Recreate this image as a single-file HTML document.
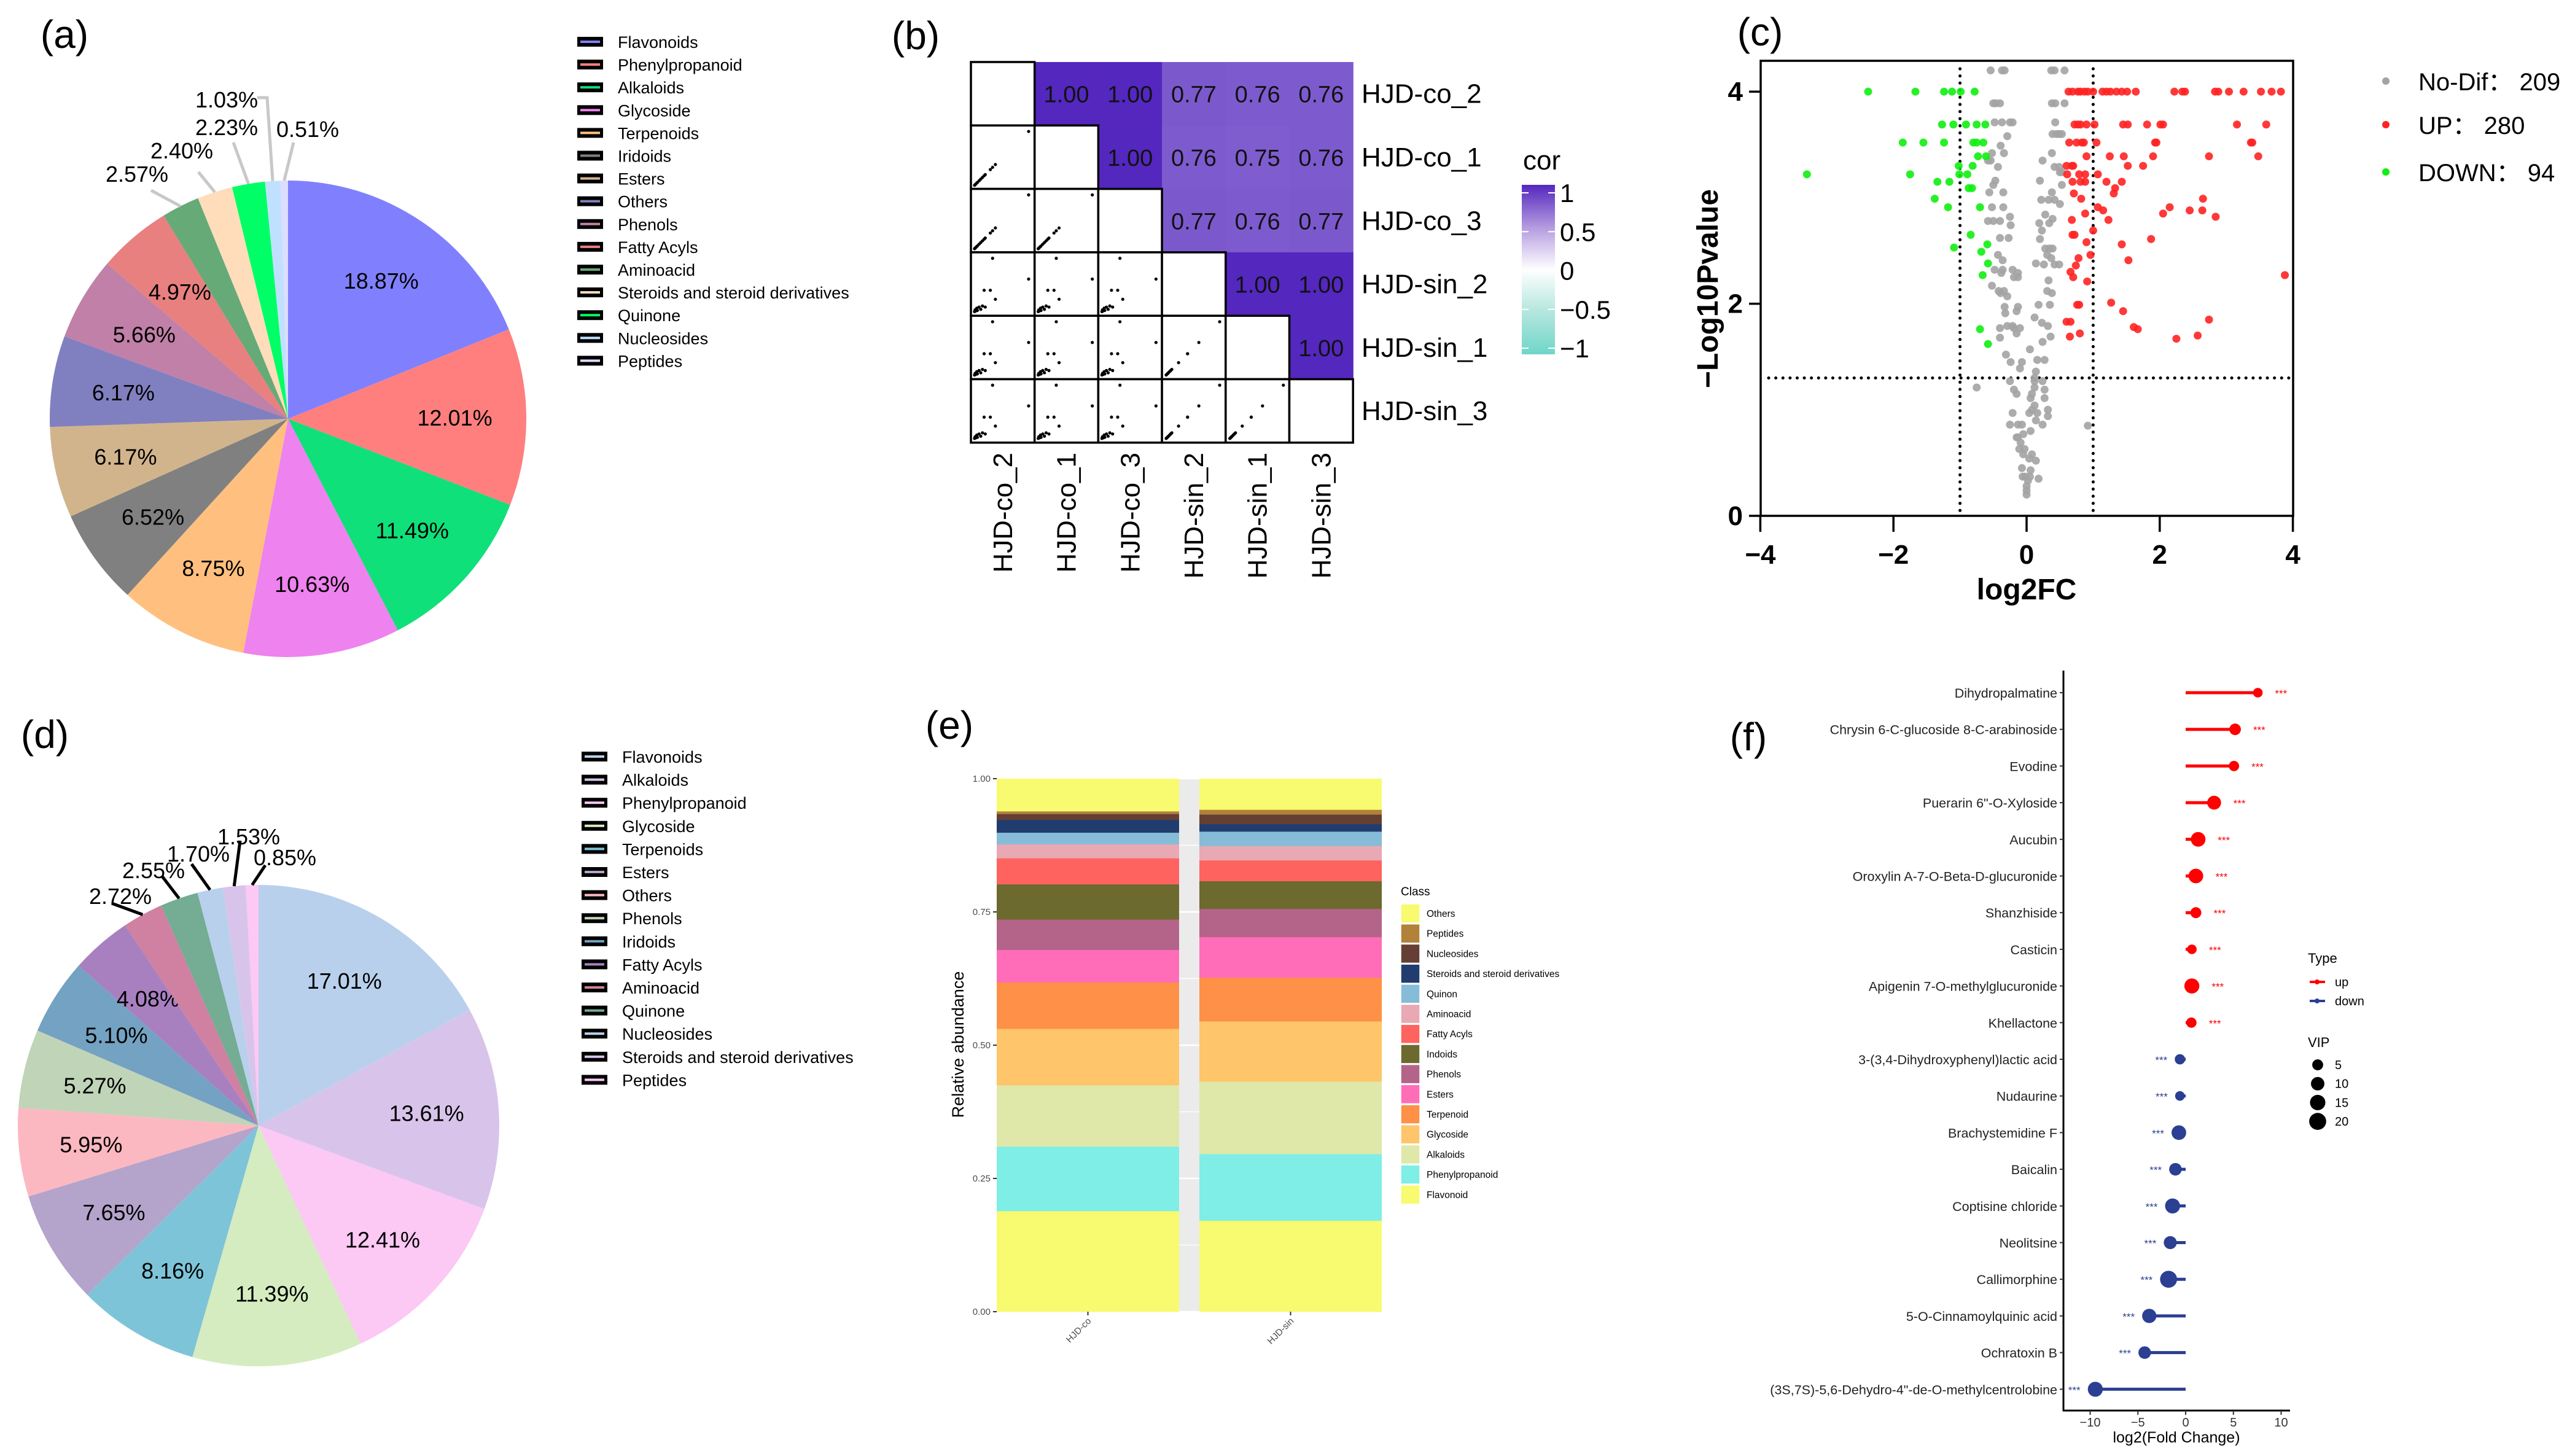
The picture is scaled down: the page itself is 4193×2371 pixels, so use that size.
<!DOCTYPE html>
<html><head><meta charset="utf-8"><style>
html,body{margin:0;padding:0;background:#fff;}
svg{display:block;}
</style></head><body>
<svg id="fig" xmlns="http://www.w3.org/2000/svg" width="4193" height="2371" viewBox="0 0 4193 2371"></svg>
<script>
// ---------- DATA ----------
const pieACats = ["Flavonoids","Phenylpropanoid","Alkaloids","Glycoside","Terpenoids","Iridoids","Esters","Others","Phenols","Fatty Acyls","Aminoacid","Steroids and steroid derivatives","Quinone","Nucleosides","Peptides"];
const pieAVals = [18.87,12.01,11.49,10.63,8.75,6.52,6.17,6.17,5.66,4.97,2.57,2.40,2.23,1.03,0.51];
const pieAColors = ["#8080FF","#FF7F7F","#10E07A","#EE82EE","#FFC07F","#808080","#D2B48C","#8080C0","#C080A8","#E88080","#66AA77","#FFDDBB","#00FF66","#C0E0FF","#DDDDFF"];

const pieDCats = ["Flavonoids","Alkaloids","Phenylpropanoid","Glycoside","Terpenoids","Esters","Others","Phenols","Iridoids","Fatty Acyls","Aminoacid","Quinone","Nucleosides","Steroids and steroid derivatives","Peptides"];
const pieDVals = [17.01,13.61,12.41,11.39,8.16,7.65,5.95,5.27,5.10,4.08,2.72,2.55,1.70,1.53,0.85];
const pieDColors = ["#B8D0EC","#D8C4EA","#FCC8F4","#D5ECC0","#7EC4D8","#B4A4CC","#FCB8C0","#C0D4B8","#74A2C2","#A880C0","#D080A0","#74AC94","#B8D0EC","#D8C4EA","#FCC8F4"];

const corrSamples = ["HJD-co_2","HJD-co_1","HJD-co_3","HJD-sin_2","HJD-sin_1","HJD-sin_3"];
const corrRows = [
 [1,1.00,1.00,0.77,0.76,0.76],
 [1.00,1,1.00,0.76,0.75,0.76],
 [1.00,1.00,1,0.77,0.76,0.77],
 [0.77,0.76,0.77,1,1.00,1.00],
 [0.76,0.75,0.76,1.00,1,1.00],
 [0.76,0.76,0.77,1.00,1.00,1]];
const profileCo = [0.01,0.02,0.03,0.05,0.06,0.09,0.12,0.15,0.18,0.20,0.29,0.33,0.38,0.97];
const profileSin = [0.02,0.05,0.03,0.08,0.04,0.10,0.06,0.12,0.40,0.10,0.40,0.97,0.24,0.60];
const corrTicks = [1,0.5,0,-0.5,-1];

const volXTicks = [-4,-2,0,2,4];
const volYTicks = [0,2,4];
const upGroups = [
 [4.0,[0.63,0.69,0.77,0.81,0.87,0.92,1.00,1.14,1.20,1.26,1.35,1.43,1.51,1.64,2.22,2.34,2.38,2.83,2.88,3.04,3.26,3.52,3.68,3.82]],
 [3.69,[0.72,0.77,0.81,0.90,1.02,1.45,1.52,1.81,2.01,2.05,3.16,3.60]],
 [3.52,[0.64,0.75,0.83,0.86,1.05,1.93,1.95,3.37,3.39]],
 [3.39,[0.90,1.25,1.46,1.90,2.74,3.48]],
 [3.30,[0.60,0.68,0.70,1.52,1.75]],
 [3.22,[0.61,0.79,0.88,1.07]],
 [3.15,[0.69,0.81,0.88,1.20,1.43]],
 [3.09,[1.33]],[3.04,[0.71,1.31]],[2.99,[0.82,2.65]],[2.91,[1.07,2.15]],
 [2.88,[1.15,2.45,2.64]],[2.85,[0.88,2.05]],[2.82,[2.84]],[2.79,[0.68,1.23]],
 [2.69,[1.00]],[2.65,[0.69,0.72]],[2.61,[1.87]],[2.58,[0.90]],[2.56,[1.43]],
 [2.46,[0.96]],[2.43,[0.78]],[2.41,[1.53]],[2.36,[0.74]],[2.30,[0.66]],[2.25,[0.70]],
 [2.27,[3.88]],[2.21,[0.91]],[2.01,[1.27]],[1.93,[1.45]],[1.99,[0.79,0.76]],
 [1.85,[2.74]],[1.83,[0.60,0.66]],[1.78,[1.61]],[1.76,[1.67]],[1.72,[0.80]],
 [1.69,[0.65]],[1.70,[2.57]],[1.67,[2.25]]];
const downGroups = [
 [4.0,[-2.38,-1.67,-1.24,-1.12,-0.99,-0.78]],
 [3.69,[-1.27,-1.10,-0.91,-0.75,-0.62]],
 [3.52,[-1.86,-1.55,-1.24,-0.80,-0.75,-0.65]],
 [3.39,[-0.73,-0.61]],
 [3.30,[-1.02,-0.81]],
 [3.22,[-3.30,-1.75,-1.01,-0.89]],
 [3.15,[-1.34,-1.16]],[3.09,[-0.87,-0.82]],[2.99,[-1.38]],[2.91,[-1.18,-0.70]],
 [2.65,[-0.84]],[2.53,[-1.09]],[2.56,[-0.59]],[2.49,[-0.68]],[2.38,[-0.58]],
 [2.27,[-0.66]],[1.76,[-0.70]],[1.62,[-0.58]]];
const noDifGroups = [
 [4.20,[-0.54,-0.37,-0.33,0.37,0.42,0.57]],[3.89,[-0.50,-0.46,-0.40,0.38,0.43,0.57]],
 [3.71,[-0.48,-0.37,-0.25,-0.21,0.43]],[3.60,[0.39,0.45,0.49,0.53]],[3.58,[-0.29]],
 [3.49,[-0.39]],[3.42,[-0.52,-0.34,0.38]],[3.35,[-0.58,-0.54,0.24]],[3.29,[-0.43,0.42,0.49]],
 [3.24,[0.50,0.53]],[3.16,[0.20,-0.47]],[3.12,[-0.50,0.53]],[3.05,[-0.56,-0.35,0.38]],
 [2.98,[0.22,0.33,0.42]],[2.94,[0.50]],[2.91,[-0.52,-0.35]],[2.84,[0.28]],[2.82,[-0.25]],
 [2.80,[0.39]],[2.78,[-0.58,-0.50,-0.40]],[2.76,[0.19,0.34]],[2.74,[-0.24]],[2.69,[0.23]],
 [2.62,[-0.40,-0.27]],[2.61,[0.20]],[2.52,[0.28,0.34,0.39]],[2.46,[-0.43,0.31]],[2.43,[0.37]],
 [2.41,[-0.36]],[2.38,[0.14]],[2.37,[0.26,0.42,0.49]],[2.32,[-0.48,-0.36,-0.21]],
 [2.29,[-0.38,-0.13]],[2.25,[-0.19,-0.13]],[2.22,[0.33]],[2.17,[-0.52]],[2.12,[-0.42,-0.34,0.31]],
 [2.10,[-0.39,0.38]],[2.07,[-0.29]],[1.99,[0.18,0.35]],[1.97,[-0.33,-0.13]],[1.93,[-0.15]],
 [1.91,[-0.32]],[1.87,[0.12]],[1.82,[0.23]],[1.79,[-0.29,-0.21,0.32]],[1.77,[-0.40,-0.19,-0.10]],
 [1.72,[-0.15]],[1.69,[0.36]],[1.68,[-0.40]],[1.64,[0.24]],[1.57,[0.05]],[1.52,[-0.31]],
 [1.47,[0.16,0.27]],[1.45,[-0.24,-0.07]],[1.39,[-0.10]],[1.36,[0.14]],[1.30,[0.12]],
 [1.27,[-0.25,0.12,0.24]],[1.21,[-0.75,0.12]],[1.19,[-0.19,0.27]],[1.15,[-0.15,0.08]],
 [1.11,[0.06,0.27]],[1.04,[0.12]],[1.00,[0.08,0.32]],[0.97,[-0.21,0.04,0.16]],[0.94,[0.32]],
 [0.90,[0.14]],[0.86,[-0.25,-0.13,-0.07,0.24]],[0.85,[0.92]],[0.80,[0.06]],[0.77,[-0.05]],
 [0.74,[-0.15,-0.13]],[0.69,[-0.09]],[0.63,[-0.11,-0.03]],[0.58,[-0.05,0.08]],[0.54,[0.04]],
 [0.52,[0.14]],[0.45,[-0.07]],[0.43,[0.06]],[0.37,[-0.06,-0.02,0.05]],[0.35,[0.18]],
 [0.33,[0.02]],[0.28,[0.00]],[0.24,[0.00]],[0.20,[0.00]]];

const stackClasses = ["Flavonoid","Phenylpropanoid","Alkaloids","Glycoside","Terpenoid","Esters","Phenols","Indoids","Fatty Acyls","Aminoacid","Quinon","Steroids and steroid derivatives","Nucleosides","Peptides","Others"];
const stackColors = ["#F8FA70","#7FEEE6","#DFE8A8","#FEC56A","#FE9047","#FF6DB9","#B56489","#6C6A2E","#FE635F","#E8A9B4","#87BCD8","#213D6F","#653F34","#B2813A","#F8FA70"];
const stackGroups = ["HJD-co","HJD-sin"];
const stackCo = [0.189,0.121,0.115,0.106,0.087,0.061,0.057,0.066,0.049,0.026,0.022,0.024,0.011,0.005,0.061];
const stackSin = [0.171,0.125,0.136,0.113,0.082,0.076,0.053,0.052,0.039,0.027,0.027,0.014,0.018,0.009,0.058];
const stackTicks = [0,0.25,0.5,0.75,1];

const lolliNames = ["Dihydropalmatine","Chrysin 6-C-glucoside 8-C-arabinoside","Evodine","Puerarin 6\"-O-Xyloside","Aucubin","Oroxylin A-7-O-Beta-D-glucuronide","Shanzhiside","Casticin","Apigenin 7-O-methylglucuronide","Khellactone","3-(3,4-Dihydroxyphenyl)lactic acid","Nudaurine","Brachystemidine F","Baicalin","Coptisine chloride","Neolitsine","Callimorphine","5-O-Cinnamoylquinic acid","Ochratoxin B","(3S,7S)-5,6-Dehydro-4\"-de-O-methylcentrolobine"];
const lolliFC = [7.56,5.18,5.06,2.98,1.31,1.07,1.07,0.65,0.65,0.60,-0.60,-0.60,-0.71,-1.07,-1.37,-1.61,-1.79,-3.81,-4.29,-9.46];
const lolliVIP = [3,6,4,11,13,13,5,3,14,4,4,3,13,8,14,9,20,12,8,14];
const lolliTicks = [-10,-5,0,5,10];
const vipLegend = [5,10,15,20];

// ---------- HELPERS ----------
const svg = document.getElementById('fig');
const NS = 'http://www.w3.org/2000/svg';
const SANS = '"Liberation Sans", sans-serif';
const NARROW = '"Liberation Sans Narrow", "Liberation Sans", sans-serif';
function mk(tag, attrs, parent, text){
  const e = document.createElementNS(NS, tag);
  for (const k in attrs) e.setAttribute(k, attrs[k]);
  if (text !== undefined) e.textContent = text;
  (parent || svg).appendChild(e);
  return e;
}
function grp(parent){ return mk('g', {}, parent); }
function polar(cx, cy, r, deg){ const a = (deg - 90) * Math.PI / 180; return [cx + r * Math.cos(a), cy + r * Math.sin(a)]; }

const letters = [["(a)",105,78],["(b)",1491,80],["(c)",2866,74],["(d)",73,1218],["(e)",1546,1203],["(f)",2847,1222]];
letters.forEach(L => {
  const t = mk('text', {x:L[1], y:L[2], 'text-anchor':'middle', 'font-family':SANS, 'font-size':64}, svg, L[0]);
  
  
});

// ---------- PIE ----------
function drawPie(g, cx, cy, r, vals, colors, outside, labelColor){
  const total = vals.reduce((a,b)=>a+b,0);
  let acc = 0;
  vals.forEach((v, i) => {
    const a0 = acc / total * 360, a1 = (acc + v) / total * 360; acc += v;
    const p0 = polar(cx, cy, r, a0), p1 = polar(cx, cy, r, a1);
    const large = (a1 - a0) > 180 ? 1 : 0;
    const s = mk('path', {d:`M${cx},${cy} L${p0[0]},${p0[1]} A${r},${r} 0 ${large} 1 ${p1[0]},${p1[1]} Z`, fill:colors[i]}, g);
    
    
    const mid = (a0 + a1) / 2;
    const lab = v.toFixed(2) + '%';
    const o = outside[i];
    if (o){
      const ps = polar(cx, cy, r, mid);
      const ln = mk('polyline', {points:`${ps[0]},${ps[1]} ${o[2]},${o[3]}` + (o[4]!==undefined?` ${o[4]},${o[5]}`:''), fill:'none', stroke:labelColor, 'stroke-width':5}, g);
      
      
      const t = mk('text', {x:o[0], y:o[1], 'text-anchor':'middle', 'font-family':NARROW, 'font-size':36}, g, lab);
      
      
    } else {
      const pt = polar(cx, cy, r * 0.7, mid);
      const t = mk('text', {x:pt[0], y:pt[1] + 13, 'text-anchor':'middle', 'font-family':NARROW, 'font-size':36}, g, lab);
      
      
    }
  });
}
function drawPieLegend(g, x, y0, step, cats, colors){
  cats.forEach((c, i) => {
    const y = y0 + i * step;
    const item = grp(g);
    
    
    mk('rect', {x:x, y:y-8, width:42, height:16, fill:'#000'}, item);
    mk('rect', {x:x+5, y:y-2, width:32, height:4, fill:colors[i]}, item);
    mk('text', {x:x+66, y:y+10, 'font-family':NARROW, 'font-size':27}, item, c);
  });
}
const outsideA = {10:[223,296,246,310],11:[296,258,323,280],12:[369,220,380,232],13:[369,175,435,159,419,159],14:[501,223,478,232]};
const gA = grp(svg);


drawPie(gA, 469, 682, 388, pieAVals, pieAColors, outsideA, '#C8C8C8');
const legA = grp(svg);


drawPieLegend(legA, 940, 68, 37.1, pieACats, pieAColors);

const outsideD = {10:[196,1472,182,1471],11:[250,1430,264,1427],12:[323,1403,312,1407],13:[405,1375,391,1369],14:[464,1409,432,1409]};
const gD = grp(svg);


drawPie(gD, 421, 1833, 392, pieDVals, pieDColors, outsideD, '#000');
const legD = grp(svg);


drawPieLegend(legD, 947, 1232, 37.6, pieDCats, pieDColors);

// ---------- CORRELATION (b) ----------
const gB = grp(svg);


const bx0 = 1581, by0 = 101, cw = 103.7, ch = 103.3;
function corrColor(v){
  const t = Math.max(0, Math.min(1, Math.abs(v)));
  const c1 = v >= 0 ? [84,39,190] : [111,214,200];
  return `rgb(${Math.round(255-(255-c1[0])*t)},${Math.round(255-(255-c1[1])*t)},${Math.round(255-(255-c1[2])*t)})`;
}
function profileOf(i){ return i < 3 ? profileCo : profileSin; }
corrSamples.forEach((rowName, i) => {
  corrSamples.forEach((colName, j) => {
    const x = bx0 + j * cw, y = by0 + i * ch;
    if (j > i){
      const v = corrRows[i][j];
      const c = mk('rect', {x:x, y:y, width:cw+0.6, height:ch+0.6, fill:corrColor(v)}, gB);
      
      
      const t = mk('text', {x:x+cw/2, y:y+ch/2+14, 'text-anchor':'middle', 'font-family':SANS, 'font-size':38, fill:'#111'}, gB, v.toFixed(2));
      
      
    }
  });
});
corrSamples.forEach((rowName, i) => {
  corrSamples.forEach((colName, j) => {
    if (j > i) return;
    const x = bx0 + j * cw, y = by0 + i * ch;
    const c = mk('rect', {x:x, y:y, width:cw, height:ch, fill:'#fff', stroke:'#000', 'stroke-width':3.5}, gB);
    
    
    if (j < i){
      const px = profileOf(j), py = profileOf(i);
      px.forEach((vx, k) => {
        const d = mk('circle', {cx:x+5+vx*(cw-12), cy:y+ch-5-py[k]*(ch-12), r:2.6, fill:'#000'}, gB);
        
        
      });
    }
  });
  const rl = mk('text', {x:2217, y:by0+i*ch+ch/2+15, 'font-family':SANS, 'font-size':44}, gB, rowName);
  
  
  const cx = bx0 + i*cw + cw/2 + 15;
  const cl = mk('text', {x:0, y:0, transform:`translate(${cx},737) rotate(-90)`, 'text-anchor':'end', 'font-family':SANS, 'font-size':44}, gB, rowName);
  
  
});
const defs = mk('defs', {});
const lg = mk('linearGradient', {id:'corrGrad', x1:0, y1:0, x2:0, y2:1}, defs);
[[0,'#5427BE'],[0.25,'#B49AE0'],[0.5,'#FFFFFF'],[0.75,'#B3E6DE'],[1,'#6FD6C8']].forEach(s => mk('stop', {offset:s[0], 'stop-color':s[1]}, lg));
const cb = grp(svg);


mk('rect', {x:2478, y:301, width:54, height:276, fill:'url(#corrGrad)'}, cb);
const cbT = mk('text', {x:2480, y:276, 'font-family':SANS, 'font-size':44}, cb, 'cor');


corrTicks.forEach(v => {
  const y = 314 + (1 - v) / 2 * 253;
  mk('line', {x1:2478, x2:2489, y1:y, y2:y, stroke:'#fff', 'stroke-width':2}, cb);
  mk('line', {x1:2521, x2:2532, y1:y, y2:y, stroke:'#fff', 'stroke-width':2}, cb);
  const t = mk('text', {x:2540, y:y+15, 'font-family':SANS, 'font-size':42}, cb, v === -1 ? '\u22121' : v === -0.5 ? '\u22120.5' : String(v));
  
  
});

// ---------- VOLCANO (c) ----------
const gC = grp(svg);


const vx = v => 3300 + v * 108.4;
const vy = v => 840 - v * 172.7;
mk('rect', {x:2867, y:99, width:867, height:741, fill:'none', stroke:'#000', 'stroke-width':3.5}, gC);
[-1, 1].forEach(v => {
  const l = mk('line', {x1:vx(v), x2:vx(v), y1:112, y2:836, stroke:'#000', 'stroke-width':5, 'stroke-dasharray':'0.1 11.5', 'stroke-linecap':'round'}, gC);
  
  
});
const hl = mk('line', {x1:2880, x2:3734, y1:vy(1.3), y2:vy(1.3), stroke:'#000', 'stroke-width':5, 'stroke-dasharray':'0.1 11.5', 'stroke-linecap':'round'}, gC);


function drawGroups(groups, color, name){
  groups.forEach(gr => gr[1].forEach(x => {
    const c = mk('circle', {cx:vx(x), cy:vy(gr[0]), r:6.5, fill:color, 'fill-opacity':0.9}, gC);
    
    
  }));
}
drawGroups(noDifGroups, '#A3A3A3', 'nodif-point');
drawGroups(upGroups, '#FF2222', 'up-point');
drawGroups(downGroups, '#11EE11', 'down-point');
volXTicks.forEach(v => {
  mk('line', {x1:vx(v), x2:vx(v), y1:840, y2:866, stroke:'#000', 'stroke-width':3.5}, gC);
  const t = mk('text', {x:vx(v), y:918, 'text-anchor':'middle', 'font-family':NARROW, 'font-weight':'bold', 'font-size':44}, gC, v < 0 ? '\u2212' + Math.abs(v) : String(v));
  
  
});
volYTicks.forEach(v => {
  mk('line', {x1:2848, x2:2867, y1:vy(v), y2:vy(v), stroke:'#000', 'stroke-width':3.5}, gC);
  const t = mk('text', {x:2838, y:vy(v)+15, 'text-anchor':'end', 'font-family':NARROW, 'font-weight':'bold', 'font-size':44}, gC, String(v));
  
  
});
const cxT = mk('text', {x:3300, y:976, 'text-anchor':'middle', 'font-family':NARROW, 'font-weight':'bold', 'font-size':48}, gC, 'log2FC');


const cyT = mk('text', {x:0, y:0, transform:'translate(2797,470) rotate(-90)', 'text-anchor':'middle', 'font-family':NARROW, 'font-weight':'bold', 'font-size':48}, gC, '\u2212Log10Pvalue');


[['No-Dif\uFF1A 209','#A3A3A3',147],['UP\uFF1A 280','#FF2222',218],['DOWN\uFF1A 94','#11EE11',295]].forEach(L => {
  const it = grp(gC);
  
  
  mk('circle', {cx:3885, cy:L[2]-15, r:6, fill:L[1]}, it);
  mk('text', {x:3938, y:L[2], 'font-family':SANS, 'font-size':40}, it, L[0]);
});

// ---------- STACKED BAR (e) ----------
const gE = grp(svg);


const ey = v => 2136 - v * 868;
mk('rect', {x:1623, y:ey(1), width:627, height:ey(0)-ey(1), fill:'#EBEBEB'}, gE);
for (let k = 0; k <= 8; k++){
  const v = k * 0.125;
  mk('line', {x1:1623, x2:2250, y1:ey(v), y2:ey(v), stroke:'#fff', 'stroke-width': k % 2 ? 1.2 : 2.4}, gE);
}
const barX = [1623, 1953], barW = 297;
[stackCo, stackSin].forEach((series, gi) => {
  let cum = 0;
  series.forEach((v, k) => {
    const r = mk('rect', {x:barX[gi], y:ey(cum+v), width:barW, height:ey(cum)-ey(cum+v)+0.4, fill:stackColors[k]}, gE);
    
    
    cum += v;
  });
  const tx = barX[gi] + barW/2;
  mk('line', {x1:tx, x2:tx, y1:2136, y2:2142, stroke:'#333', 'stroke-width':2}, gE);
  const t = mk('text', {x:0, y:0, transform:`translate(${tx+6},2152) rotate(-45)`, 'text-anchor':'end', 'font-family':SANS, 'font-size':15, fill:'#4D4D4D'}, gE, stackGroups[gi]);
  
  
});
stackTicks.forEach(v => {
  mk('line', {x1:1617, x2:1623, y1:ey(v), y2:ey(v), stroke:'#333', 'stroke-width':2}, gE);
  const t = mk('text', {x:1613, y:ey(v)+5, 'text-anchor':'end', 'font-family':SANS, 'font-size':15, fill:'#4D4D4D'}, gE, v.toFixed(2));
  
  
});
const eyT = mk('text', {x:0, y:0, transform:'translate(1569,1701) rotate(-90)', 'text-anchor':'middle', 'font-family':SANS, 'font-size':27}, gE, 'Relative abundance');


const eLeg = grp(gE);


mk('text', {x:2281, y:1458, 'font-family':SANS, 'font-size':19}, eLeg, 'Class');
for (let k = stackClasses.length - 1, row = 0; k >= 0; k--, row++){
  const y = 1472 + row * 32.7;
  const it = grp(eLeg);
  
  
  mk('rect', {x:2281, y:y, width:31, height:31, fill:stackColors[k], stroke:'#fff', 'stroke-width':1.5}, it);
  mk('text', {x:2323, y:y+21, 'font-family':SANS, 'font-size':15.5}, it, stackClasses[k]);
}

// ---------- LOLLIPOP (f) ----------
const gF = grp(svg);


const fx = v => 3559 + v * 15.55;
const fy = i => 1128 + i * 59.7;
const vipR = v => 4 + 2.2 * Math.sqrt(v);
mk('line', {x1:3360, x2:3360, y1:1092, y2:2298, stroke:'#000', 'stroke-width':3}, gF);
mk('line', {x1:3359, x2:3729, y1:2297, y2:2297, stroke:'#000', 'stroke-width':3}, gF);
lolliNames.forEach((n, i) => {
  const y = fy(i), up = lolliFC[i] > 0;
  const col = up ? '#FF0000' : '#2B3F93';
  mk('line', {x1:3354, x2:3360, y1:y, y2:y, stroke:'#333', 'stroke-width':2}, gF);
  const lab = mk('text', {x:3350, y:y+8, 'text-anchor':'end', 'font-family':SANS, 'font-size':21.5, fill:'#222'}, gF, n);
  
  
  const stem = mk('line', {x1:fx(0), x2:fx(lolliFC[i]), y1:y, y2:y, stroke:col, 'stroke-width':5}, gF);
  
  
  const r = vipR(lolliVIP[i]);
  const dot = mk('circle', {cx:fx(lolliFC[i]), cy:y, r:r, fill:col}, gF);
  
  
  const sx = up ? fx(lolliFC[i]) + r + 20 : fx(lolliFC[i]) - r - 12;
  const st = mk('text', {x:sx, y:y+7, 'text-anchor':up ? 'start' : 'end', 'font-family':SANS, 'font-size':17, fill:col}, gF, '***');
  
  
});
lolliTicks.forEach(v => {
  mk('line', {x1:fx(v), x2:fx(v), y1:2297, y2:2304, stroke:'#333', 'stroke-width':2}, gF);
  const t = mk('text', {x:fx(v), y:2323, 'text-anchor':'middle', 'font-family':SANS, 'font-size':20, fill:'#333'}, gF, v < 0 ? '\u2212' + Math.abs(v) : String(v));
  
  
});
const fxT = mk('text', {x:3544, y:2349, 'text-anchor':'middle', 'font-family':SANS, 'font-size':25}, gF, 'log2(Fold Change)');


const fLeg = grp(gF);


mk('text', {x:3758, y:1568, 'font-family':SANS, 'font-size':22}, fLeg, 'Type');
[['up','#FF0000',1599],['down','#2B3F93',1630]].forEach(L => {
  const it = grp(fLeg);
  
  
  mk('line', {x1:3761, x2:3786, y1:L[2], y2:L[2], stroke:L[1], 'stroke-width':4}, it);
  mk('circle', {cx:3773, cy:L[2], r:4, fill:L[1]}, it);
  mk('text', {x:3802, y:L[2]+7, 'font-family':SANS, 'font-size':20}, it, L[0]);
});
mk('text', {x:3758, y:1705, 'font-family':SANS, 'font-size':22}, fLeg, 'VIP');
vipLegend.forEach((v, k) => {
  const y = 1734 + k * 30.7;
  const it = grp(fLeg);
  
  
  mk('circle', {cx:3774, cy:y, r:vipR(v), fill:'#000'}, it);
  mk('text', {x:3802, y:y+7, 'font-family':SANS, 'font-size':20}, it, String(v));
});
</script>
</body></html>
